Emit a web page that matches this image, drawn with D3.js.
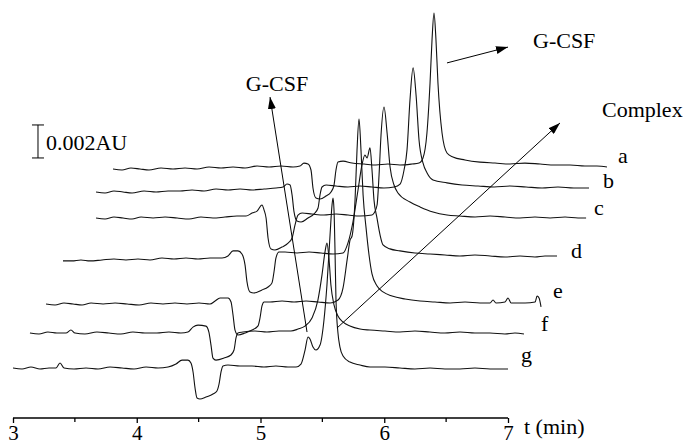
<!DOCTYPE html>
<html>
<head>
<meta charset="utf-8">
<script src="https://cdn.jsdelivr.net/npm/d3@7"></script>
<style>
  body { margin: 0; background: #fff; }
</style>
</head>
<body>
<script>
// electropherograms a-g, time in min, absorbance in mAU
var traceNames = ['a', 'b', 'c', 'd', 'e', 'f', 'g'];
// stacking offsets used in the figure
var shiftMin = [0.808, 0.671, 0.671, 0.404, 0.267, 0.137, 0];
var baseMAU = [15.09, 13.70, 12.12, 9.58, 6.91, 5.15, 3.03];
var timeTicks = [3, 4, 5, 6, 7];
var minorTicks = [3.5, 4.5, 5.5, 6.5];
var scaleBarMAU = 2;

var traceA = [[3.000,0],[3.073,-0.06],[3.145,0.06],[3.218,0],[3.291,-0.06],[3.388,0.06],[3.485,0],[3.582,0.06],[3.679,0],[3.776,0.12],[3.873,0.06],[3.970,0.12],[4.067,0.06],[4.164,0.18],[4.261,0.12],[4.358,0.18],[4.455,0.12],[4.511,0.18],[4.543,0.36],[4.576,0.30],[4.600,-0.06],[4.616,-1.15],[4.640,-1.76],[4.673,-1.82],[4.721,-1.64],[4.762,-1.39],[4.786,-0.97],[4.802,-0.06],[4.818,0.42],[4.859,0.48],[4.931,0.36],[5.028,0.30],[5.125,0.24],[5.222,0.30],[5.319,0.24],[5.416,0.30],[5.473,0.36],[5.505,0.67],[5.537,2.18],[5.562,5.21],[5.578,7.82],[5.594,9.45],[5.610,7.82],[5.626,5.21],[5.659,2.18],[5.699,0.97],[5.747,0.73],[5.844,0.55],[5.966,0.42],[6.087,0.36],[6.208,0.30],[6.329,0.36],[6.451,0.30],[6.572,0.24],[6.693,0.24],[6.814,0.18],[6.911,0.18],[6.992,0.12]];
var traceB = [[3.000,0],[3.073,-0.06],[3.145,0.06],[3.218,0],[3.291,-0.06],[3.388,0.06],[3.485,0],[3.582,0.06],[3.679,0.06],[3.776,0.12],[3.873,0.06],[3.970,0.18],[4.067,0.12],[4.164,0.18],[4.261,0.12],[4.358,0.18],[4.455,0.24],[4.511,0.30],[4.543,0.48],[4.568,0.42],[4.584,-0.18],[4.600,-1.21],[4.624,-1.76],[4.657,-1.82],[4.713,-1.58],[4.762,-1.33],[4.794,-0.97],[4.810,-0.18],[4.826,0.30],[4.859,0.42],[4.939,0.36],[5.036,0.30],[5.133,0.36],[5.230,0.30],[5.327,0.24],[5.408,0.30],[5.457,0.48],[5.489,1.33],[5.513,2.55],[5.537,5.58],[5.562,7.52],[5.586,5.88],[5.610,3.15],[5.642,1.76],[5.675,1.15],[5.723,0.73],[5.836,0.55],[5.958,0.42],[6.087,0.36],[6.216,0.30],[6.345,0.36],[6.475,0.30],[6.604,0.24],[6.733,0.30],[6.861,0.24],[6.984,0.24]];
var traceC = [[3.000,0],[3.073,-0.06],[3.145,0.06],[3.218,0],[3.291,-0.06],[3.364,0.06],[3.461,0],[3.558,0.06],[3.655,0],[3.752,-0.06],[3.848,0.06],[3.945,0],[4.042,0.06],[4.139,0.12],[4.212,0.12],[4.261,0.30],[4.301,0.42],[4.341,0.79],[4.358,0.48],[4.374,0],[4.390,-1.21],[4.414,-1.88],[4.446,-1.94],[4.503,-1.76],[4.552,-1.52],[4.584,-1.21],[4.608,-0.42],[4.632,0.18],[4.665,0.30],[4.745,0.24],[4.842,0.18],[4.939,0.24],[5.036,0.18],[5.133,0.12],[5.230,0.18],[5.247,0.30],[5.271,0.79],[5.287,2.61],[5.303,5.03],[5.327,6.73],[5.352,5.15],[5.376,3.09],[5.408,2.00],[5.440,1.52],[5.537,0.97],[5.618,0.67],[5.723,0.36],[5.836,0.18],[5.941,0.12],[6.063,0.06],[6.184,0.12],[6.305,0.06],[6.426,0],[6.547,0.06],[6.669,0],[6.790,0.06],[6.895,0],[6.960,0]];
var traceD = [[3.000,-0.06],[3.073,-0.06],[3.145,0],[3.218,-0.06],[3.315,0],[3.412,0.06],[3.509,0],[3.606,0.06],[3.703,0],[3.800,0.12],[3.897,0.06],[3.994,0.12],[4.091,0.06],[4.188,0.12],[4.285,0.12],[4.333,0.24],[4.374,0.55],[4.414,0.55],[4.446,0.36],[4.471,-0.30],[4.487,-1.33],[4.511,-1.94],[4.543,-2.00],[4.608,-1.82],[4.657,-1.64],[4.689,-1.39],[4.705,-0.73],[4.721,0.12],[4.745,0.48],[4.794,0.48],[4.891,0.42],[4.988,0.48],[5.085,0.42],[5.182,0.36],[5.263,0.42],[5.303,1.03],[5.343,2.30],[5.384,4.24],[5.416,5.76],[5.440,6.36],[5.457,6.18],[5.481,6.79],[5.497,5.45],[5.513,3.64],[5.537,2.55],[5.562,1.52],[5.586,0.91],[5.642,0.67],[5.723,0.55],[5.844,0.42],[5.966,0.36],[6.087,0.30],[6.208,0.24],[6.329,0.30],[6.451,0.24],[6.572,0.18],[6.693,0.24],[6.814,0.18],[6.895,0.24],[6.992,0.24]];
var traceE = [[3.000,0],[3.073,-0.06],[3.145,0.06],[3.218,0],[3.291,-0.06],[3.364,0.06],[3.461,0],[3.558,0.06],[3.655,0],[3.752,-0.06],[3.848,0.06],[3.945,0],[4.042,0.06],[4.139,0],[4.236,0.06],[4.325,0],[4.366,0.18],[4.406,0.36],[4.471,0.36],[4.495,0.12],[4.511,-0.67],[4.527,-1.58],[4.552,-1.88],[4.608,-1.76],[4.665,-1.58],[4.713,-1.33],[4.729,-0.85],[4.745,-0.12],[4.762,0.12],[4.810,0.12],[4.907,0.18],[5.004,0.12],[5.101,0.18],[5.198,0.12],[5.295,0.06],[5.360,0.24],[5.400,0.97],[5.433,2.67],[5.457,3.88],[5.473,4.12],[5.497,6.30],[5.513,9.33],[5.529,11.21],[5.545,9.33],[5.562,6.61],[5.586,4.61],[5.610,2.97],[5.634,1.82],[5.675,1.09],[5.723,0.73],[5.796,0.48],[5.901,0.30],[6.022,0.18],[6.143,0.12],[6.265,0.06],[6.386,0.12],[6.507,0.06],[6.588,0.06],[6.612,0.24],[6.636,0.06],[6.709,0.12],[6.733,0.36],[6.758,0.06],[6.871,0.06],[6.952,0.12],[6.968,0.48],[6.984,0.36],[7.000,-0.18]];
var traceF = [[3.000,0],[3.073,-0.06],[3.145,0.06],[3.218,0],[3.291,0],[3.331,0.18],[3.364,0],[3.444,-0.06],[3.541,0.06],[3.638,0],[3.735,-0.06],[3.832,0.06],[3.929,0],[4.026,0],[4.123,0.06],[4.220,0],[4.277,0.06],[4.317,0.36],[4.358,0.48],[4.422,0.42],[4.446,0.06],[4.463,-0.73],[4.479,-1.52],[4.503,-1.64],[4.568,-1.52],[4.624,-1.33],[4.649,-1.03],[4.665,-0.30],[4.681,0],[4.721,0.06],[4.818,0.12],[4.915,0.06],[5.012,0.12],[5.109,0.12],[5.166,0.24],[5.222,0.42],[5.279,0.91],[5.327,2.00],[5.360,3.52],[5.384,4.91],[5.400,5.45],[5.416,4.55],[5.432,2.91],[5.457,1.70],[5.489,1.03],[5.529,0.67],[5.586,0.42],[5.667,0.24],[5.747,0.18],[5.869,0.12],[5.990,0.06],[6.111,0.12],[6.232,0.06],[6.353,0],[6.475,0.06],[6.596,0],[6.717,0],[6.838,-0.06],[6.919,0],[6.992,-0.06]];
var traceG = [[3.000,0],[3.073,-0.06],[3.145,0.06],[3.218,-0.06],[3.291,0],[3.347,0],[3.380,0.30],[3.412,0],[3.493,-0.06],[3.590,0],[3.687,-0.06],[3.784,0.06],[3.881,0],[3.978,-0.06],[4.075,0.06],[4.172,0],[4.253,0.06],[4.317,0.24],[4.366,0.48],[4.414,0.48],[4.438,0.30],[4.455,-0.24],[4.471,-1.21],[4.487,-1.82],[4.511,-1.88],[4.560,-1.76],[4.616,-1.58],[4.648,-1.39],[4.665,-0.97],[4.681,-0.24],[4.697,0.12],[4.737,0.18],[4.834,0.12],[4.931,0.12],[5.028,0.06],[5.125,0.12],[5.222,0.06],[5.287,0.06],[5.327,0.24],[5.360,1.09],[5.384,1.88],[5.400,1.76],[5.424,1.27],[5.448,1.09],[5.481,1.39],[5.513,2.91],[5.537,5.03],[5.562,8.06],[5.578,9.88],[5.586,10.30],[5.594,9.58],[5.602,7.15],[5.610,4.12],[5.626,2.12],[5.642,1.27],[5.667,0.73],[5.723,0.36],[5.804,0.18],[5.885,0.06],[6.006,0.06],[6.127,0],[6.248,-0.06],[6.370,0],[6.491,-0.06],[6.612,-0.06],[6.733,0],[6.855,-0.06],[7.000,-0.06]];
var traces = [traceA, traceB, traceC, traceD, traceE, traceF, traceG];

// annotation arrows, [t, mAU] from -> to
var arrowGcsfLeft = [[5.376, 5.21], [5.077, 19.45]];
var arrowGcsfRight = [[6.507, 21.52], [7.0, 22.48]];
var arrowComplex = [[5.618, 5.45], [7.420, 17.88]];

var W = 690, H = 446;
var serif = '"Times New Roman", "Liberation Serif", Times, serif';
var x = d3.scaleLinear().domain([3, 7]).range([13, 508]);
var y = d3.scaleLinear().domain([0, 25]).range([418, 418 - 25 * 16.5]);

var svg = d3.select('body').append('svg')
    .attr('width', W)
    .attr('height', H)
    .attr('font-family', serif);

svg.append('defs').append('marker')
    .attr('id', 'head')
    .attr('viewBox', '0 0 12 8')
    .attr('refX', 12)
    .attr('refY', 4)
    .attr('markerWidth', 12)
    .attr('markerHeight', 8)
    .attr('markerUnits', 'userSpaceOnUse')
    .attr('orient', 'auto')
  .append('path')
    .attr('d', 'M0,0 L12,4 L0,8 Z')
    .attr('fill', '#000');

// traces
var line = d3.line()
    .curve(d3.curveMonotoneX);

traces.forEach(function (tr, i) {
  var pts = tr.map(function (p) { return [x(p[0] + shiftMin[i]), y(p[1] + baseMAU[i])] });
  svg.append('path')
      .attr('d', line(pts))
      .attr('fill', 'none')
      .attr('stroke', '#111')
      .attr('stroke-width', 1.1)
      .attr('stroke-linejoin', 'round');
});

// trace letters, placed right of each trace end
var labelNudge = [[11, -4], [14, 0], [8, -3], [14, 2], [12, -9], [17, -3], [13, -7]];
traces.forEach(function (tr, i) {
  var last = tr[tr.length - 1];
  svg.append('text')
      .attr('x', x(last[0] + shiftMin[i]) + labelNudge[i][0])
      .attr('y', y(last[1] + baseMAU[i]) + labelNudge[i][1])
      .style('font-family', serif)
      .style('font-size', '22px')
      .text(traceNames[i]);
});

// arrows
[arrowGcsfLeft, arrowGcsfRight, arrowComplex].forEach(function (a) {
  svg.append('line')
      .attr('x1', x(a[0][0])).attr('y1', y(a[0][1]))
      .attr('x2', x(a[1][0])).attr('y2', y(a[1][1]))
      .attr('stroke', '#000')
      .attr('stroke-width', 1)
      .attr('marker-end', 'url(#head)');
});

svg.append('text')
    .attr('x', x(arrowGcsfLeft[1][0]) + 7)
    .attr('y', y(arrowGcsfLeft[1][1]) - 6)
    .style('font-family', serif)
    .style('font-size', '22px')
    .style('text-anchor', 'middle')
    .text('G-CSF');
svg.append('text')
    .attr('x', x(arrowGcsfRight[1][0]) + 25)
    .attr('y', y(arrowGcsfRight[1][1]) + 1)
    .style('font-family', serif)
    .style('font-size', '22px')
    .text('G-CSF');
svg.append('text')
    .attr('x', x(arrowComplex[1][0]) + 42)
    .attr('y', y(arrowComplex[1][1]) - 6)
    .style('font-family', serif)
    .style('font-size', '22px')
    .text('Complex');

// scale bar
var sbTop = y(baseMAU[0] + 2.67), sbBot = y(baseMAU[0] + 2.67 - scaleBarMAU), sbX = x(3.202);
var sb = svg.append('g').attr('stroke', '#000').attr('stroke-width', 1);
sb.append('line').attr('x1', sbX).attr('x2', sbX).attr('y1', sbTop).attr('y2', sbBot);
sb.append('line').attr('x1', sbX - 6).attr('x2', sbX + 6).attr('y1', sbTop).attr('y2', sbTop);
sb.append('line').attr('x1', sbX - 6).attr('x2', sbX + 6).attr('y1', sbBot).attr('y2', sbBot);
svg.append('text')
    .attr('x', sbX + 8)
    .attr('y', sbBot - 8)
    .style('font-family', serif)
    .style('font-size', '22px')
    .text('0.002AU');

// time axis
var xAxis = d3.axisBottom(x)
    .tickValues(timeTicks)
    .tickSize(5)
    .tickPadding(2)
    .tickFormat(d3.format('d'));
var gx = svg.append('g')
    .attr('transform', 'translate(0,' + y(0) + ')')
    .call(xAxis)
    .attr('font-family', serif);
gx.select('.domain').attr('stroke', '#000').attr('stroke-width', 1.3)
    .attr('d', 'M' + x(3) + ',0H' + x(7));
gx.selectAll('.tick line').attr('stroke', '#000').attr('stroke-width', 1.3);
gx.selectAll('.tick text')
    .attr('fill', '#000')
    .style('font-family', serif)
    .style('font-size', '21px');
gx.selectAll('.minor')
    .data(minorTicks)
    .enter()
  .append('line')
    .attr('x1', function (d) { return x(d) })
    .attr('x2', function (d) { return x(d) })
    .attr('y1', 0)
    .attr('y2', 4)
    .attr('stroke', '#000')
    .attr('stroke-width', 1.3);
gx.append('text')
    .attr('x', x(7) + 16)
    .attr('y', 16)
    .attr('fill', '#000')
    .style('font-family', serif)
    .style('font-size', '22px')
    .style('text-anchor', 'start')
    .text('t (min)');
</script>
</body>
</html>
